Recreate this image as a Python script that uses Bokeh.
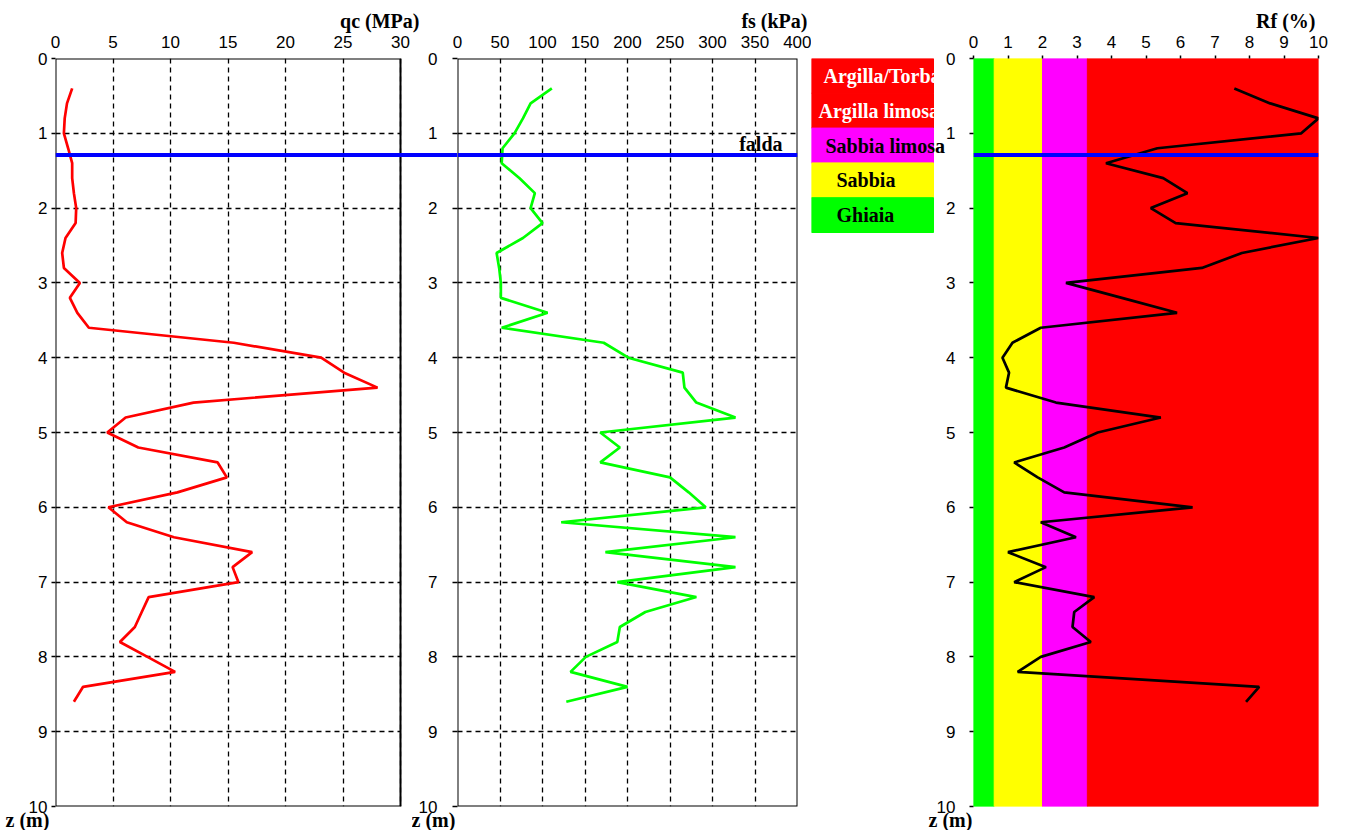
from bokeh.plotting import figure
from bokeh.layouts import row
from bokeh.models import (Range1d, FixedTicker, Span, BoxAnnotation, Label,
                          Grid, Title)
from bokeh.core.properties import value
from bokeh.embed import file_html
from bokeh.resources import INLINE

# ---------------- data ----------------
depth = [0.4, 0.6, 0.8, 1.0, 1.2, 1.4, 1.6, 1.8, 2.0, 2.2, 2.4, 2.6, 2.8, 3.0,
         3.2, 3.4, 3.6, 3.8, 4.0, 4.2, 4.4, 4.6, 4.8, 5.0, 5.2, 5.4, 5.6, 5.8,
         6.0, 6.2, 6.4, 6.6, 6.8, 7.0, 7.2, 7.4, 7.6, 7.8, 8.0, 8.2, 8.4, 8.6]
qc = [1.45, 1.0, 0.8, 0.73, 1.1, 1.45, 1.45, 1.6, 1.8, 1.75, 0.87, 0.58, 0.73, 2.12,
      1.25, 1.9, 2.9, 15.5, 23.1, 25.1, 28.0, 12.0, 6.1, 4.5, 7.2, 14.1, 14.9, 10.6,
      4.6, 6.2, 10.3, 17.1, 15.4, 15.9, 8.1, 7.5, 6.9, 5.6, 8.0, 10.4, 2.4, 1.6]
fs = [111, 86, 77, 67, 53, 52, 73, 91, 86, 100, 77, 46, 49, 51,
      51, 106, 52, 172, 201, 265, 267, 281, 327, 168, 191, 168, 250, 272,
      292, 122, 327, 174, 327, 188, 281, 221, 191, 188, 151, 133, 200, 128]
rf = [7.56, 8.6, 10.0, 9.5, 5.33, 3.84, 5.5, 6.2, 5.14, 5.86, 10.0, 7.78, 6.62, 2.68,
      4.3, 5.9, 1.95, 1.13, 0.84, 1.03, 0.94, 2.39, 5.43, 3.6, 2.63, 1.18, 1.86, 2.63,
      6.35, 1.95, 2.97, 1.0, 2.1, 1.18, 3.5, 2.92, 2.87, 3.4, 1.95, 1.28, 8.28, 7.9]

falda_depth = 1.29
depth_ticks = [0, 1, 2, 3, 4, 5, 6, 7, 8, 9, 10]
qc_ticks = [0, 5, 10, 15, 20, 25, 30]
fs_ticks = [0, 50, 100, 150, 200, 250, 300, 350, 400]
rf_ticks = [0, 1, 2, 3, 4, 5, 6, 7, 8, 9, 10]

soil_names = ["Argilla/Torba", "Argilla limosa", "Sabbia limosa", "Sabbia", "Ghiaia"]
soil_colors = ["#FF0000", "#FF0000", "#FF00FF", "#FFFF00", "#00FF00"]
soil_text_colors = ["white", "white", "black", "black", "black"]

rf_band_left = [0.0, 0.6, 2.0, 3.3]
rf_band_right = [0.6, 2.0, 3.3, 10.0]
rf_band_colors = ["#00FF00", "#FFFF00", "#FF00FF", "#FF0000"]

# ---------------- layout / style (page pixels) ----------------
H = 830
FR_TOP = 58
FR_BOT = 806
SERIF = "Liberation Serif"
SANS = "Liberation Sans"
TICK_FS = "17px"
TITLE_FS = "20px"
LEG_FS = "20px"
GRID_DASH = "5 4"
HAS_CB = "cross_bounds" in Grid.properties()


def base_fig(width, x_range, ml, mr):
    p = figure(width=width, height=H, x_range=x_range, y_range=Range1d(10, 0),
               x_axis_location="above", y_axis_location="left",
               output_backend="svg", toolbar_location=None,
               min_border_left=ml, min_border_right=mr,
               min_border_top=FR_TOP, min_border_bottom=H - FR_BOT)
    p.outline_line_color = None
    p.background_fill_color = "white"
    p.border_fill_color = "white"
    return p


def style_axis(ax, ticks, tick_out, standoff):
    ax.ticker = FixedTicker(ticks=ticks)
    ax.axis_line_color = None
    ax.major_tick_out = tick_out
    ax.major_tick_in = 0
    ax.minor_tick_out = 0
    ax.minor_tick_in = 0
    ax.major_tick_line_color = "black"
    ax.major_tick_line_width = 1.5
    ax.major_label_standoff = standoff
    ax.major_label_text_font = SANS
    ax.major_label_text_font_size = TICK_FS
    ax.major_label_text_color = "black"


def dashed_grid(p, xticks, x_lo, x_hi):
    p.xgrid.ticker = FixedTicker(ticks=xticks)
    p.ygrid.ticker = FixedTicker(ticks=depth_ticks)
    p.grid.grid_line_color = "black"
    p.grid.grid_line_dash = GRID_DASH
    p.grid.grid_line_width = 1.3
    if HAS_CB:
        p.ygrid.cross_bounds = (x_lo, x_hi)
    else:
        p.ygrid.visible = False
        p.segment(x0=x_lo, x1=x_hi, y0=depth_ticks, y1=depth_ticks,
                  line_color="black", line_dash=GRID_DASH, line_width=1.3)


def panel_box(p, x_max):
    p.add_layout(BoxAnnotation(left=0, right=x_max, top=0, bottom=10,
                               fill_color=None, fill_alpha=0,
                               line_color="black", line_alpha=1.0, line_width=2))


def top_title(p, text, shift_left):
    # for right-aligned titles a positive offset moves the text to the left
    t = p.title
    t.text = text
    t.align = "right"
    t.offset = shift_left
    t.standoff = 2
    t.text_font = SERIF
    t.text_font_style = "bold"
    t.text_font_size = TITLE_FS
    t.text_color = "black"


def z_title(p, dx):
    p.add_layout(Title(text="z (m)", align="left", offset=dx, standoff=0,
                       text_font=SERIF, text_font_style="bold",
                       text_font_size=TITLE_FS, text_color="black"), "below")


def falda_span(p):
    p.add_layout(Span(location=falda_depth, dimension="width",
                      line_color="#0000FF", line_width=4))


# ---------------- panel A : qc ----------------
A_RIGHT = 457                     # A's frame reaches B's panel so the water line is continuous
A_PX = (400 - 55) / 30
pA = base_fig(A_RIGHT, Range1d(0, (A_RIGHT - 55) / A_PX), 55, 0)
style_axis(pA.xaxis, qc_ticks, 0, 11)
style_axis(pA.yaxis, depth_ticks, 4, 4)
dashed_grid(pA, qc_ticks, 0, 30)
pA.line(qc, depth, line_color="#FF0000", line_width=2.7)
panel_box(pA, 30)
falda_span(pA)
top_title(pA, "qc (MPa)", A_RIGHT - 419)
z_title(pA, -50)

# ---------------- panel B : fs ----------------
B_LEFT = 412
B_RIGHT = 811
pB = base_fig(B_RIGHT - B_LEFT, Range1d(0, 400), 457 - B_LEFT, B_RIGHT - 797)
pB.margin = (0, 0, 0, B_LEFT - A_RIGHT)   # overlap A's extended frame
pB.border_fill_alpha = 0
style_axis(pB.xaxis, fs_ticks, 0, 11)
style_axis(pB.yaxis, depth_ticks, 5, 15)
dashed_grid(pB, fs_ticks, 0, 400)
pB.line(fs, depth, line_color="#00FF00", line_width=2.7)
panel_box(pB, 400)
falda_span(pB)
pB.add_layout(Label(x=400, y=falda_depth, x_offset=-15, text="falda",
                    text_align="right", text_baseline="bottom",
                    text_font=SERIF, text_font_style="bold",
                    text_font_size=TITLE_FS, text_color="black"))
top_title(pB, "fs (kPa)", 797 - 807)
z_title(pB, -46)

# ---------------- legend ----------------
L_W = 140
ROW = 34.8
pL = figure(width=L_W, height=H, x_range=Range1d(0, L_W / (933 - B_RIGHT)),
            y_range=Range1d((FR_BOT - FR_TOP) / ROW, 0),
            x_axis_location=None, y_axis_location=None,
            output_backend="svg", toolbar_location=None,
            min_border_left=0, min_border_right=0,
            min_border_top=FR_TOP, min_border_bottom=H - FR_BOT)
pL.outline_line_color = None
pL.grid.visible = False
rows_idx = list(range(len(soil_names)))
legend_dx = [12, 7, 14, 25, 25]
pL.quad(left=0, right=1, top=rows_idx, bottom=[i + 1 for i in rows_idx],
        fill_color=soil_colors, line_color=soil_colors, line_width=1)
pL.text(x=0, y=[i + 0.5 for i in rows_idx], text=soil_names, x_offset=legend_dx,
        text_color=soil_text_colors, text_font=value(SERIF),
        text_font_style="bold", text_font_size=LEG_FS,
        text_align="left", text_baseline="middle")

# ---------------- panel C : Rf ----------------
C_LEFT = 926
pC = base_fig(1330 - C_LEFT, Range1d(0, 10), 973 - C_LEFT, 1330 - 1318)
pC.margin = (0, 0, 0, C_LEFT - (B_RIGHT + L_W))   # let legend text run under C's border
pC.border_fill_alpha = 0
style_axis(pC.xaxis, rf_ticks, 3, 8)
style_axis(pC.yaxis, depth_ticks, 4, 14)
pC.grid.visible = False
pC.quad(left=rf_band_left, right=rf_band_right, top=0, bottom=10,
        fill_color=rf_band_colors, line_color=rf_band_colors, line_width=1)
pC.line(rf, depth, line_color="black", line_width=2.7)
falda_span(pC)
top_title(pC, "Rf (%)", 1318 - 1315)
z_title(pC, -45)

layout = row(pA, pB, pL, pC)
open("out.html", "w").write(file_html(layout, INLINE))
